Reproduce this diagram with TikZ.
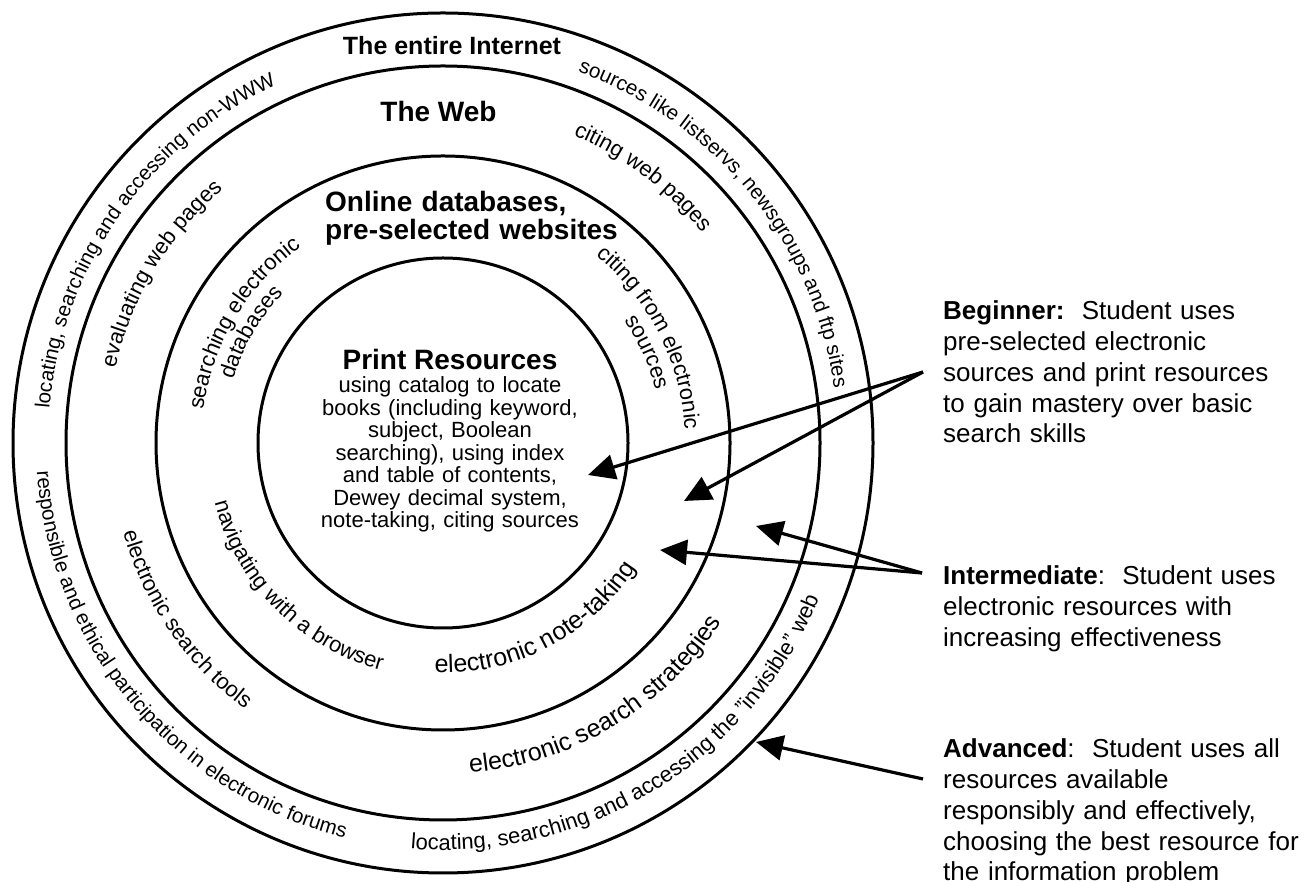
\documentclass[tikz,border=0pt]{standalone}
\usepackage{fontspec}
\setmainfont{Liberation Sans}
\usetikzlibrary{arrows.meta,decorations.text}

% text set along an arc round (C): clockwise (reads over the top) or
% counter-clockwise (reads along the bottom); args: radius, mid angle, size, text
\newcommand\cwtext[4]{\path[shift={(C)},decorate,decoration={text along path,text align=center,
  text={|\fontsize{#3}{#3}\selectfont|#4}}] (#2+80:#1) arc[start angle=#2+80,end angle=#2-80,radius=#1];}
\newcommand\ccwtext[4]{\path[shift={(C)},decorate,decoration={text along path,text align=center,
  text={|\fontsize{#3}{#3}\selectfont|#4}}] (#2-80:#1) arc[start angle=#2-80,end angle=#2+80,radius=#1];}

\begin{document}
\begin{tikzpicture}[x=1pt,y=1pt,
  ring/.style={draw,circle,line width=3pt,inner sep=0pt},
  arr/.style={line width=3.2pt,-{Triangle[length=27pt,width=25pt]}},
  lbl/.style={inner sep=0pt,text width=370pt,align=left,font=\fontsize{26}{30.7}\selectfont}]
\useasboundingbox (0,0) rectangle (1308,882);
\coordinate (C) at (443,439);

% the four nested levels
\node[ring,minimum size=860pt] (internet) at (C) {};
\node[ring,minimum size=754pt] (web) at (C) {};
\node[ring,minimum size=574pt] (online) at (C) {};
\node[ring,minimum size=370pt] (print) at (C) {};

% level titles
\node[inner sep=0pt,anchor=base,font=\bfseries\fontsize{25}{25}\selectfont] (tinternet) at (452,827) {The entire Internet};
\node[inner sep=0pt,anchor=base,font=\bfseries\fontsize{28}{28}\selectfont] (tweb) at (438.5,760) {The Web};
\node[inner sep=0pt,anchor=base west,text width=320pt,align=left,font=\bfseries\fontsize{28}{28}\selectfont] (tonline) at (325,670) {Online databases,\\pre-selected websites};
\node[inner sep=0pt,anchor=base,font=\bfseries\fontsize{28}{28}\selectfont] (tprint) at (450,512) {Print Resources};
\node[inner sep=0pt,anchor=base,text width=320pt,align=center,font=\fontsize{22}{22.5}\selectfont] (tprintbody) at (450,489)
  {using catalog to locate\\books (including keyword,\\subject, Boolean\\searching), using index\\and table of contents,\\Dewey decimal system,\\note-taking, citing sources};

% skills along the rings
\cwtext{395}{145}{20.6}{locating, searching and accessing non-WWW}
\cwtext{395}{39}{20.6}{sources like listservs, newsgroups and ftp sites}
\ccwtext{407}{220}{20.6}{responsible and ethical participation in electronic forums}
\ccwtext{407}{301.5}{22}{locating, searching and accessing the "invisible" web}
\cwtext{336}{149}{22}{evaluating web pages}
\cwtext{334}{53}{22}{citing web pages}
\ccwtext{332}{214.5}{22}{electronic search tools}
\ccwtext{331}{301}{25}{electronic search strategies}
\cwtext{242}{149}{22}{searching electronic}
\cwtext{219}{150}{22}{databases}
\cwtext{242}{27}{22}{citing from electronic}
\cwtext{219}{24}{22}{sources}
\ccwtext{236}{224.7}{22}{navigating with a browser}
\ccwtext{230}{297.5}{25}{electronic note-taking}

% stage descriptions
\node[lbl,anchor=base west] (beginner) at (943,562)
  {\textbf{Beginner:}\ \ Student uses\\pre-selected electronic\\sources and print resources\\to gain mastery over basic\\search skills};
\node[lbl,anchor=base west] (intermediate) at (943,297)
  {\textbf{Intermediate}:\ \ Student uses\\electronic resources with\\increasing effectiveness};
\node[lbl,anchor=base west] (advanced) at (943,124)
  {\textbf{Advanced}:\ \ Student uses all\\resources available\\responsibly and effectively,\\choosing the best resource for\\the information problem};

% pointers from each stage into the rings
\coordinate (begfrom) at (923,510);
\coordinate (intfrom) at (922,309);
\coordinate (advfrom) at (923,103);
\coordinate (begA) at (588,407);
\coordinate (begB) at (684,381);
\coordinate (intA) at (660,332);
\coordinate (intB) at (756,356);
\coordinate (advA) at (756,140);
\draw[arr] (begfrom) -- (begA);
\draw[arr] (begfrom) -- (begB);
\draw[arr] (intfrom) -- (intA);
\draw[arr] (intfrom) -- (intB);
\draw[arr] (advfrom) -- (advA);
\end{tikzpicture}
\end{document}
